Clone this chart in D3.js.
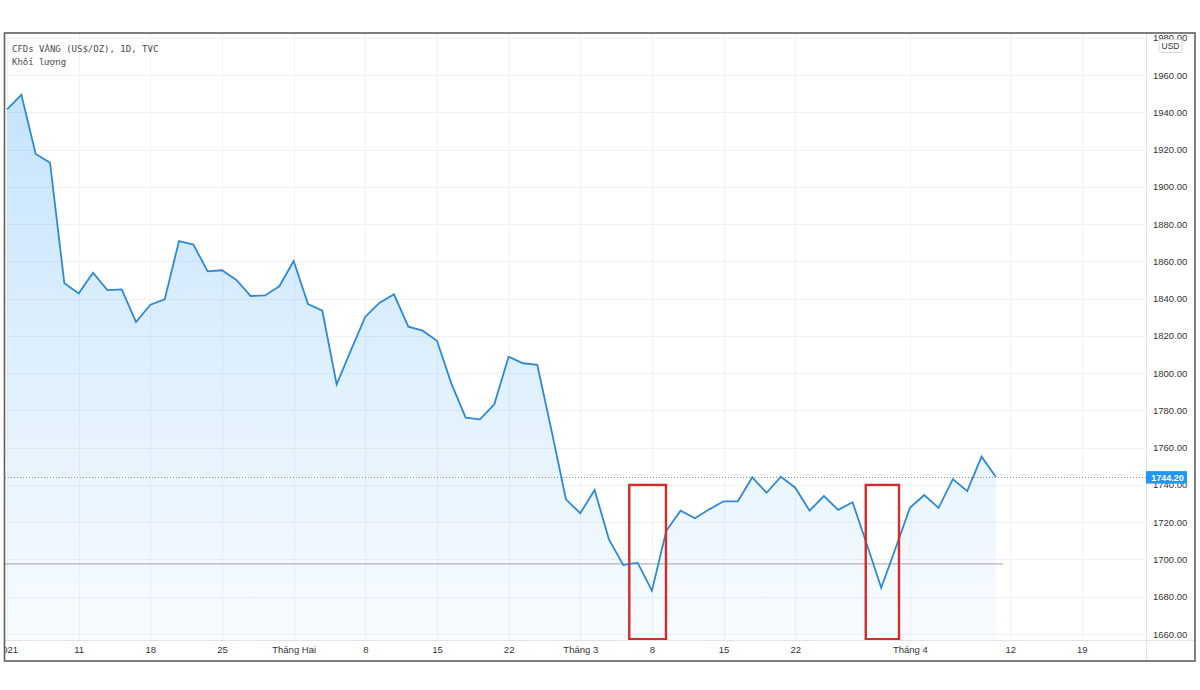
<!DOCTYPE html>
<html>
<head>
<meta charset="utf-8">
<script src="https://cdn.jsdelivr.net/npm/d3@7"></script>
<style>
  html, body { margin: 0; padding: 0; background: #ffffff; }
  svg { display: block; }
</style>
</head>
<body>
<svg id="chart" width="1200" height="690"></svg>
<script>
// ---- DATA ----
const dates = [
  "2021-01-04","2021-01-05","2021-01-06","2021-01-07","2021-01-08",
  "2021-01-11","2021-01-12","2021-01-13","2021-01-14","2021-01-15",
  "2021-01-18","2021-01-19","2021-01-20","2021-01-21","2021-01-22",
  "2021-01-25","2021-01-26","2021-01-27","2021-01-28","2021-01-29",
  "2021-02-01","2021-02-02","2021-02-03","2021-02-04","2021-02-05",
  "2021-02-08","2021-02-09","2021-02-10","2021-02-11","2021-02-12",
  "2021-02-15","2021-02-16","2021-02-17","2021-02-18","2021-02-19",
  "2021-02-22","2021-02-23","2021-02-24","2021-02-25","2021-02-26",
  "2021-03-01","2021-03-02","2021-03-03","2021-03-04","2021-03-05",
  "2021-03-08","2021-03-09","2021-03-10","2021-03-11","2021-03-12",
  "2021-03-15","2021-03-16","2021-03-17","2021-03-18","2021-03-19",
  "2021-03-22","2021-03-23","2021-03-24","2021-03-25","2021-03-26",
  "2021-03-29","2021-03-30","2021-03-31","2021-04-01","2021-04-02",
  "2021-04-05","2021-04-06","2021-04-07","2021-04-08","2021-04-09"
];
const closes = [
  1941.6,1949.4,1917.6,1912.9,1848.2,
  1842.8,1853.9,1844.6,1844.9,1827.4,
  1836.7,1839.6,1870.9,1869.0,1854.6,
  1855.2,1850.0,1841.4,1841.7,1846.6,
  1860.2,1837.1,1833.5,1794.0,1812.4,
  1830.3,1837.8,1842.3,1824.9,1822.8,
  1817.4,1794.5,1776.1,1775.2,1783.3,
  1808.8,1805.3,1804.4,1769.0,1732.3,
  1724.8,1737.3,1710.8,1697.0,1698.3,
  1683.2,1715.4,1726.2,1722.1,1726.9,
  1731.2,1731.2,1744.1,1735.8,1744.4,
  1738.5,1726.2,1734.0,1726.6,1730.7,
  1708.0,1684.8,1706.0,1727.7,1734.6,
  1727.7,1743.1,1736.7,1755.2,1744.2
];
// x tick labels: bar index (trading-day position) and text
const xTickIndex  = [0, 5, 10, 15, 20, 25, 30, 35, 40, 45, 50, 55, 63, 70, 75];
const xTickLabels = ["2021","11","18","25","Tháng Hai","8","15","22","Tháng 3","8","15","22","Tháng 4","12","19"];
// y ticks
const yTicks = [1660,1680,1700,1720,1740,1760,1780,1800,1820,1840,1860,1880,1900,1920,1940,1960,1980];
const lastPrice = 1744.20;
const supportLevel = 1697.6;
const supportEndIndex = 69.5;
// highlighted boxes (bar index ranges, value range)
const boxFrom = [43.42, 59.92];
const boxTo   = [45.98, 62.24];
const boxTop = 1740;
const boxBottom = 1657.2;

// ---- LAYOUT ----
const L = 5, R = 1146, T = 33, B = 640, FRAME_R = 1195, FRAME_B = 661;
const svg = d3.select("#chart");

const x = d3.scaleLinear().domain([0, 70]).range([7.05, 1010.2]);
const y = d3.scaleLinear().domain([1660, 1960]).range([634, 75]);

const defs = svg.append("defs");
defs.append("clipPath").attr("id","plotClip")
  .append("rect").attr("x",L).attr("y",T).attr("width",R-L).attr("height",B-T);
defs.append("clipPath").attr("id","yAxisClip")
  .append("rect").attr("x",R).attr("y",T+1).attr("width",FRAME_R-R).attr("height",B-T-1);
defs.append("clipPath").attr("id","xAxisClip")
  .append("rect").attr("x",L).attr("y",B).attr("width",R-L).attr("height",FRAME_B-B);
const grad = defs.append("linearGradient").attr("id","areaGrad")
  .attr("gradientUnits","userSpaceOnUse")
  .attr("x1",0).attr("y1",90).attr("x2",0).attr("y2",B);
grad.append("stop").attr("offset","0%").attr("stop-color","#2196f3").attr("stop-opacity",0.26);
grad.append("stop").attr("offset","100%").attr("stop-color","#2196f3").attr("stop-opacity",0.03);

// ---- GRID ----
const grid = svg.append("g").attr("clip-path","url(#plotClip)");
grid.selectAll("line.h").data(yTicks).join("line")
  .attr("x1",L).attr("x2",R)
  .attr("y1",d=>Math.round(y(d))+0.5).attr("y2",d=>Math.round(y(d))+0.5)
  .attr("stroke","#f0f2f7").attr("stroke-width",1);
grid.selectAll("line.v").data(xTickIndex).join("line")
  .attr("x1",d=>Math.round(x(d))+0.5).attr("x2",d=>Math.round(x(d))+0.5)
  .attr("y1",T).attr("y2",B)
  .attr("stroke","#f0f2f7").attr("stroke-width",1);

// ---- AREA + LINE ----
const data = closes.map((v,i)=>({i, v, date: dates[i]}));
const plot = svg.append("g").attr("clip-path","url(#plotClip)");
plot.append("path").datum(data)
  .attr("d", d3.area().x(d=>x(d.i)).y0(B).y1(d=>y(d.v)))
  .attr("fill","url(#areaGrad)");

// support line
plot.append("line")
  .attr("x1",L).attr("x2",x(supportEndIndex))
  .attr("y1",y(supportLevel)).attr("y2",y(supportLevel))
  .attr("stroke","#b9b0b8").attr("stroke-width",1.2);

// last price dotted line
plot.append("line")
  .attr("x1",L).attr("x2",R)
  .attr("y1",Math.round(y(lastPrice))+0.5).attr("y2",Math.round(y(lastPrice))+0.5)
  .attr("stroke","#8a8e99").attr("stroke-width",1).attr("stroke-dasharray","1,2");

plot.append("path").datum(data)
  .attr("d", d3.line().x(d=>x(d.i)).y(d=>y(d.v)))
  .attr("fill","none").attr("stroke","#2f89d3").attr("stroke-width",1.8)
  .attr("stroke-linejoin","miter");

// red highlight boxes
plot.selectAll("rect.box").data(boxFrom.map((f,k)=>({f, t: boxTo[k]}))).join("rect")
  .attr("x",d=>x(d.f)).attr("width",d=>x(d.t)-x(d.f))
  .attr("y",y(boxTop)).attr("height",y(boxBottom)-y(boxTop))
  .attr("fill","none").attr("stroke","#d42a2a").attr("stroke-width",2.4);

// ---- AXES ----
// separators
svg.append("line").attr("x1",R+0.5).attr("x2",R+0.5).attr("y1",T).attr("y2",FRAME_B)
  .attr("stroke","#e0e3eb");
svg.append("line").attr("x1",L).attr("x2",FRAME_R).attr("y1",B+0.5).attr("y2",B+0.5)
  .attr("stroke","#e0e3eb");

const yAxis = d3.axisRight(y).tickValues(yTicks).tickFormat(d3.format(".2f")).tickSize(0).tickPadding(0);
const yg = svg.append("g").attr("clip-path","url(#yAxisClip)")
  .append("g").attr("transform",`translate(${R+7},0)`).call(yAxis);
yg.select(".domain").remove();
yg.selectAll("text").attr("font-family","'Liberation Sans', Arial, sans-serif")
  .attr("font-size","9.5px").attr("fill","#333");

const xAxis = d3.axisBottom(x).tickValues(xTickIndex).tickFormat((d,k)=>xTickLabels[k]).tickSize(0).tickPadding(0);
const xg = svg.append("g").attr("clip-path","url(#xAxisClip)")
  .append("g").attr("transform",`translate(0,${B+6})`).call(xAxis);
xg.select(".domain").remove();
xg.selectAll("text").attr("font-family","'Liberation Sans', Arial, sans-serif")
  .attr("font-size","9.5px").attr("fill","#333").attr("dy","0.71em");

// last price label
const lpY = y(lastPrice);
svg.append("rect").attr("x",R).attr("y",lpY-6).attr("width",41).attr("height",12.5)
  .attr("fill","#2196f3");
svg.append("text").attr("x",R+21.5).attr("y",lpY+0.3).attr("dy","0.35em")
  .attr("text-anchor","middle")
  .attr("font-family","'Liberation Sans', Arial, sans-serif").attr("font-size","9px")
  .attr("font-weight","bold").attr("fill","#ffffff").text(d3.format(".2f")(lastPrice));

// USD badge
svg.append("rect").attr("x",1159).attr("y",39.5).attr("width",23).attr("height",13).attr("rx",2)
  .attr("fill","#ffffff").attr("stroke","#d6d8de");
svg.append("text").attr("x",1170.5).attr("y",46).attr("dy","0.35em").attr("text-anchor","middle")
  .attr("font-family","'Liberation Sans', Arial, sans-serif").attr("font-size","8.5px")
  .attr("fill","#333").text("USD");

// legend text
const legend = svg.append("g").attr("font-family","'DejaVu Sans Mono', monospace")
  .attr("font-size","9px").attr("fill","#4a4a4a");
legend.append("text").attr("x",12).attr("y",51.5).text("CFDs VÀNG (US$/OZ), 1D, TVC");
legend.append("text").attr("x",12).attr("y",64.5).text("Khối lượng");

// frame
svg.append("rect").attr("x",4.5).attr("y",33).attr("width",FRAME_R-4.5).attr("height",FRAME_B-33)
  .attr("fill","none").attr("stroke","#5f5f5f").attr("stroke-width",1.6);
</script>
</body>
</html>
